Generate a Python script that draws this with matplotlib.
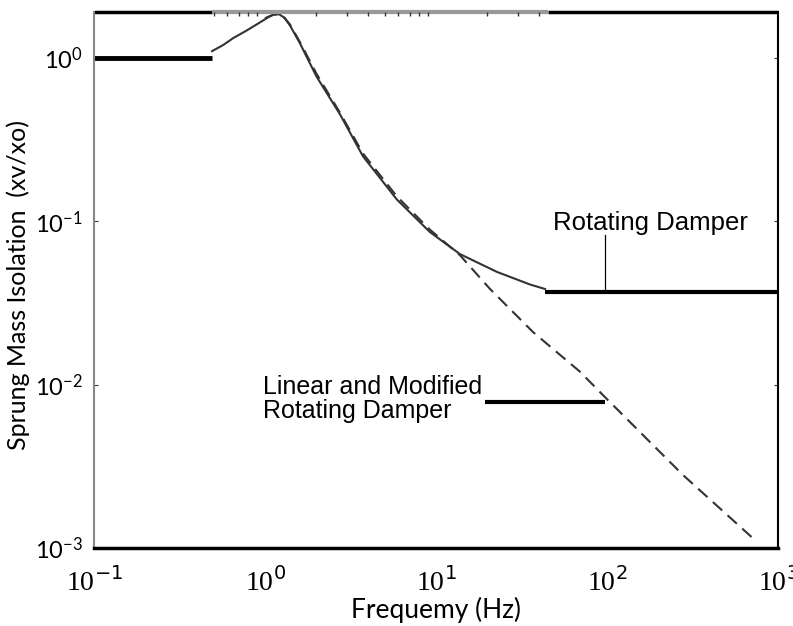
import numpy as np
import matplotlib.pyplot as plt
from matplotlib.ticker import FixedLocator, NullLocator

## Values
# rotating damper curve (solid)
rot_x = [0.49, 0.57, 0.65, 0.78, 0.90, 1.05, 1.12, 1.21, 1.30, 1.40, 1.60, 2.0, 2.75, 3.74, 5.9, 9.2, 13.8, 22.7, 35.5, 43.4]
rot_y = [1.10, 1.20, 1.32, 1.47, 1.61, 1.78, 1.84, 1.85, 1.76, 1.58, 1.23, 0.77, 0.45, 0.25, 0.136, 0.086, 0.063, 0.049, 0.041, 0.0385]

# linear / modified rotating damper curve (dashed)
lin_x = [1.0, 1.12, 1.21, 1.30, 1.40, 1.60, 2.0, 2.75, 3.74, 5.9, 9.2, 13.8, 20.7, 36.9, 69.5, 95.0, 278.0, 753.0]
lin_y = [1.75, 1.84, 1.85, 1.76, 1.60, 1.25, 0.80, 0.46, 0.26, 0.142, 0.089, 0.062, 0.0385, 0.021, 0.012, 0.0086, 0.0028, 0.00109]

# thick flat pieces
low_x = [0.1, 0.49]
low_y = [1.0, 1.0]
rot_flat_x = [43.4, 1000]
rot_flat_y = [0.037, 0.037]
lin_flat_x = [19.4, 97]
lin_flat_y = [0.0078, 0.0078]

x_ticks = [0.1, 1, 10, 100, 1000]
x_ticklabels = ['10$^{-1}$', '10$^{0}$', '10$^{1}$', '10$^{2}$', '10$^{3}$']
y_ticks = [0.001, 0.01, 0.1, 1]
y_ticklabels = ['$\\mathregular{10^{-3}}$', '$\\mathregular{10^{-2}}$',
                '$\\mathregular{10^{-1}}$', '$\\mathregular{10^{0}}$']

y_top = 1.91

fig = plt.figure(figsize=(7.93, 6.26), dpi=100)
ax = fig.add_axes([94/793, 1 - 548/626, (778 - 94)/793, (548 - 12)/626])
ax.set_xscale('log')
ax.set_yscale('log')
ax.set_xlim(0.1, 1000)
ax.set_ylim(0.001, y_top)

## curves
ax.plot(rot_x, rot_y, color='#333333', linewidth=1.5)
ax.plot(lin_x, lin_y, color='#333333', linewidth=1.5, linestyle=(0, (6, 3.5)))

## thick flat pieces and leader line
ax.plot(low_x, low_y, color='black', linewidth=3.5, solid_capstyle='butt', clip_on=False)
ax.plot(rot_flat_x, rot_flat_y, color='black', linewidth=3, solid_capstyle='butt', clip_on=False)
ax.plot(lin_flat_x, lin_flat_y, color='black', linewidth=3, solid_capstyle='butt')
ax.plot([97, 97], [0.037, 0.082], color='black', linewidth=0.9)

## top border (scanned look: black, gray section with little ticks, black)
ax.spines['top'].set_visible(False)
ax.plot([0.1, 0.49], [y_top, y_top], color='black', linewidth=2.5, clip_on=False, solid_capstyle='butt')
ax.plot([0.49, 45], [y_top, y_top], color='#999999', linewidth=3, clip_on=False, solid_capstyle='butt')
ax.plot([45, 1000], [y_top, y_top], color='black', linewidth=2.5, clip_on=False, solid_capstyle='butt')
top_minor = [m * d for d in [0.1, 1, 10] for m in range(2, 10) if 0.49 < m * d < 45]
ax.plot(top_minor, [y_top] * len(top_minor), linestyle='none', marker=3,
        markersize=3, color='#333333', clip_on=False)

## spines
ax.spines['left'].set_color('#888888')
ax.spines['left'].set_linewidth(1.5)
ax.spines['bottom'].set_color('black')
ax.spines['bottom'].set_linewidth(2.5)
ax.spines['right'].set_color('black')
ax.spines['right'].set_linewidth(1.5)

## ticks
ax.xaxis.set_major_locator(FixedLocator(x_ticks))
ax.xaxis.set_minor_locator(NullLocator())
ax.yaxis.set_major_locator(FixedLocator(y_ticks))
ax.yaxis.set_minor_locator(NullLocator())
ax.set_xticklabels(x_ticklabels, fontsize=20, family='Liberation Serif')
ax.set_yticklabels(y_ticklabels, fontsize=17, family='Lato')
ax.tick_params(axis='x', length=0, pad=14)
ax.tick_params(axis='y', direction='in', length=3, color='#333333', pad=8, right=True)

## axis labels
ax.set_xlabel('Frequemy (Hz)', fontsize=19, family='Lato', labelpad=0)
ax.set_ylabel('Sprung Mass Isolation  (xv/xo)', fontsize=18, family='Lato')
ax.yaxis.set_label_coords(-0.093, 0.49)

## annotations
ax.text(48.3, 0.097, 'Rotating Damper', fontsize=18.5, family='Liberation Sans',
        va='center', ha='left')
ax.text(0.97, 0.0082, 'Linear and Modified\nRotating Damper', fontsize=18,
        family='Liberation Sans', va='center', ha='left', linespacing=1.0)

fig.savefig('out.png', dpi=100)
